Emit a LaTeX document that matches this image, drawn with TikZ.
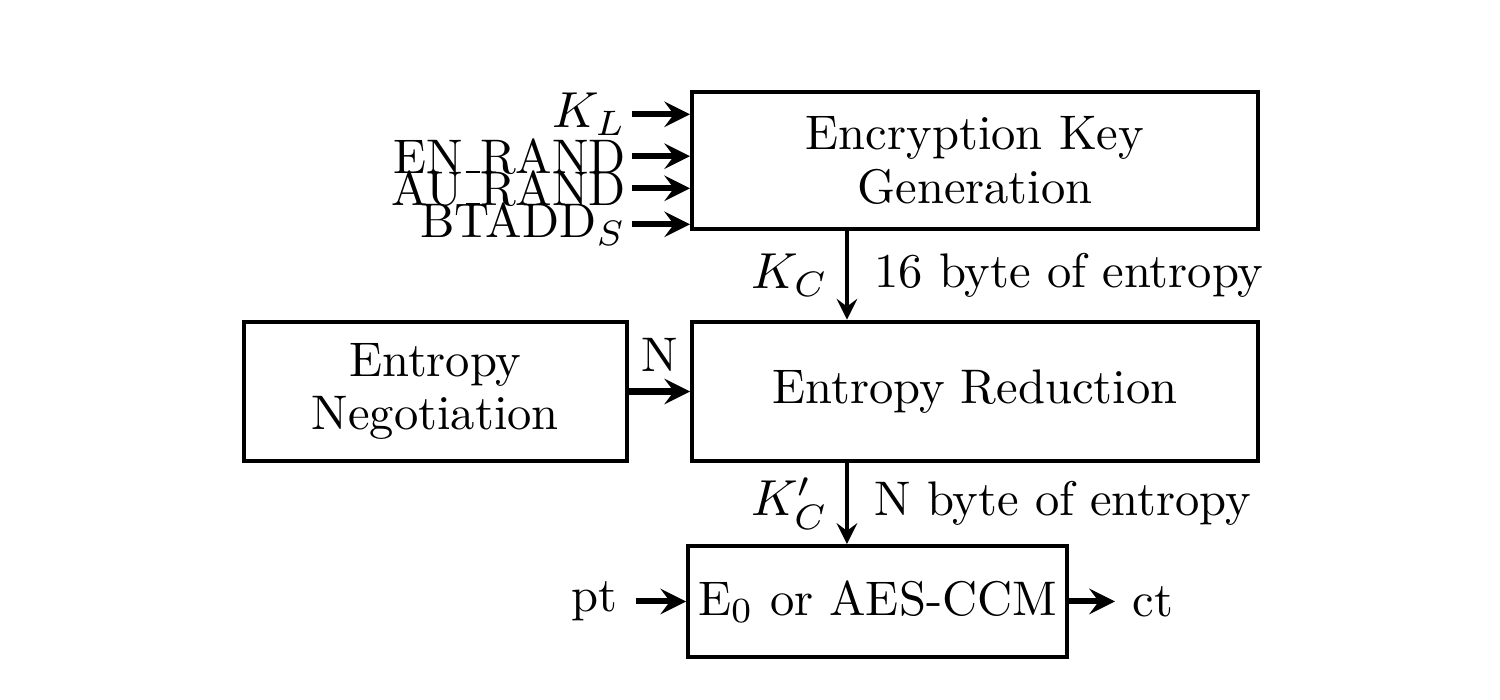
\documentclass[tikz,border=0pt]{standalone}
\usetikzlibrary{positioning}

% low rule as underscore
\newcommand\lowbar{\kern.06em\rule{.3em}{.04em}}

\begin{document}
\begin{tikzpicture}[%
        font=\fontsize{9.6pt}{10.5pt}\selectfont,
        blk/.style={
            % the shape:
            draw,
            thick,
            % the rest:
            align=center,
            inner sep=0pt,
        },
        inlbl/.style={
            anchor=east,
            inner sep=1pt,
        },
        feed/.style={->, very thick},
        flow/.style={->, thick},
        >=stealth
    ]
    \useasboundingbox (0,0) rectangle (10.417,4.861);

    \node[blk, minimum width=39.3mm, minimum height=9.5mm] (keygen) at (6.771,3.747) {Encryption Key\\Generation};
    \node[blk, minimum width=39.3mm, minimum height=9.7mm] (reduce) at (6.771,2.142) {Entropy Reduction};
    \node[blk, minimum width=26.6mm, minimum height=9.7mm] (nego) at (3.024,2.142) {Entropy\\Negotiation};
    \node[blk, minimum width=26.3mm, minimum height=7.7mm] (cipher) at (6.094,0.684) {E$_0$ or AES-CCM};

    % inputs of the key generation
    \node[inlbl] (kl) at (4.389,4.067) {$K_L$};
    \node[inlbl] (enrand) at (4.389,3.776) {EN\lowbar RAND};
    \node[inlbl] (aurand) at (4.389,3.553) {AU\lowbar RAND};
    \node[inlbl] (btadd) at (4.389,3.303) {BTADD$_S$};
    \foreach \src in {kl,enrand,aurand,btadd}
        \draw[feed] (\src.east) -- (\src.east -| keygen.west);

    \coordinate (kx) at (5.882,0);
    \draw[flow] (keygen.south -| kx) -- (reduce.north -| kx)
        node[midway, left=0mm] {$K_C$}
        node[midway, right=0.6mm] {16 byte of entropy};
    \draw[feed] (nego.east) -- (reduce.west) node[midway, above] {N};
    \draw[flow] (reduce.south -| kx) -- (cipher.north -| kx)
        node[midway, left=0mm] {$K'_C$}
        node[midway, right=0.6mm] {N byte of entropy};

    \node[left=3.5mm of cipher] (pt) {pt};
    \node[right=3.2mm of cipher] (ct) {ct};
    \draw[feed] (pt) -- (cipher);
    \draw[feed] (cipher) -- (ct);
\end{tikzpicture}
\end{document}
